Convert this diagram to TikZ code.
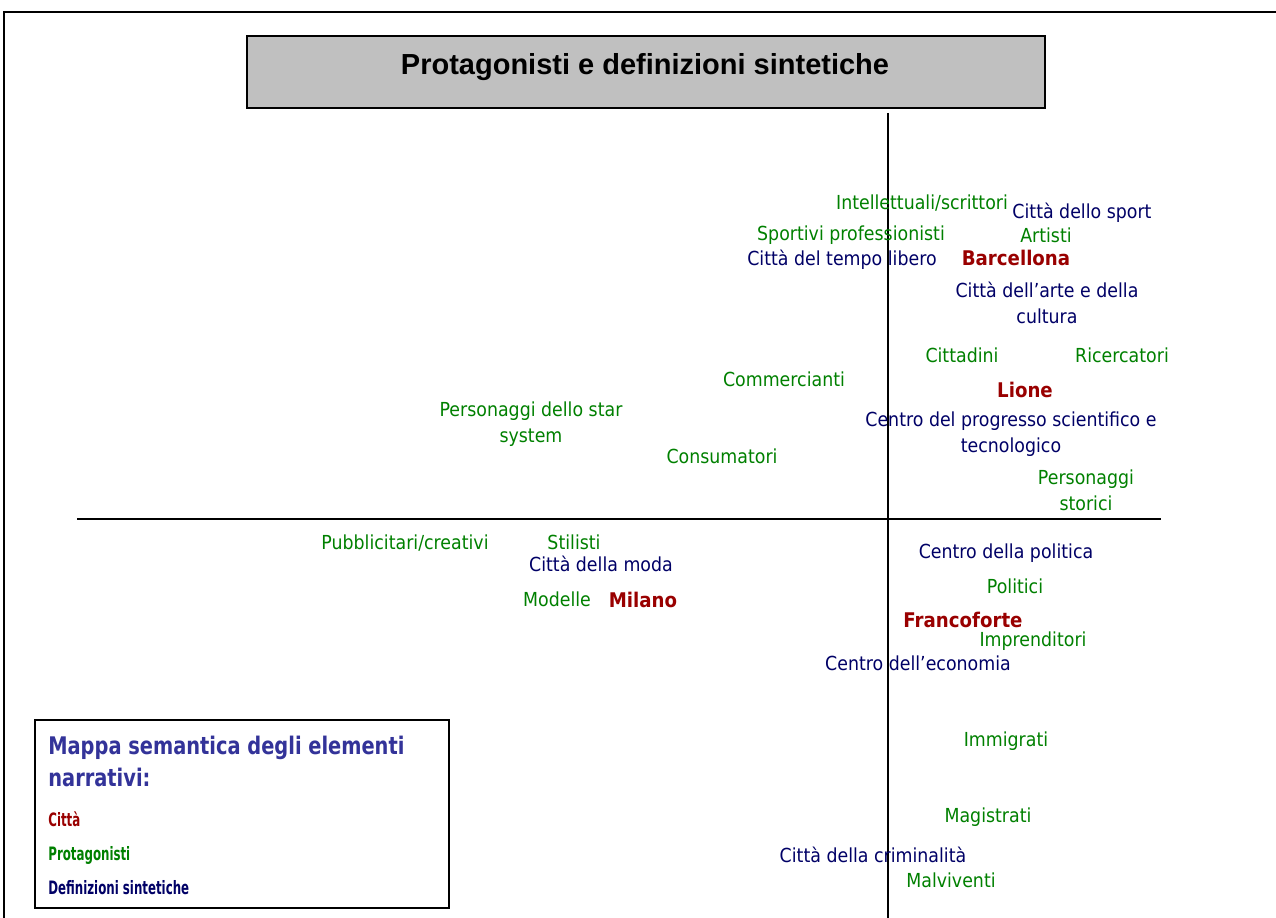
\documentclass[tikz,border=0pt]{standalone}
\usepackage{fontspec}
\setmainfont{DejaVu Sans}[FakeStretch=0.9]
\newfontfamily\titlefont{Liberation Sans}
\newfontfamily\legfont{DejaVu Sans}[FakeStretch=0.8]
\newfontfamily\legitemfont{DejaVu Sans}[FakeStretch=0.64]
\usepackage{tikz}
\usetikzlibrary{positioning}
\definecolor{prot}{RGB}{0,128,0}
\definecolor{defin}{RGB}{0,0,102}
\definecolor{citta}{RGB}{153,0,0}
\definecolor{legblue}{RGB}{51,51,153}
\definecolor{boxgray}{RGB}{192,192,192}

\begin{document}
\begin{tikzpicture}[x=0.02cm,y=-0.02cm,
  prota/.style={text=prot,inner sep=0,align=center,font=\fontsize{11}{14.7}\selectfont},
  defi/.style={text=defin,inner sep=0,align=center,font=\fontsize{11}{14.7}\selectfont},
  city/.style={text=citta,inner sep=0,font=\fontsize{11.5}{14}\selectfont\bfseries},
  legitem/.style={anchor=west,inner sep=0,font=\legitemfont\fontsize{10.5}{12}\selectfont\bfseries},
  axis/.style={line width=1.4pt}]
\useasboundingbox (0,0) rectangle (1276,918);
% frame and title
\draw[line width=1.4pt] (4,918) -- (4,12) -- (1276,12);
\node[draw,line width=1.4pt,fill=boxgray,minimum width=15.96cm,minimum height=1.44cm] (title) at (646,72) {};
\node[font=\titlefont\fontsize{16.5}{18}\selectfont\bfseries,inner sep=0] (titletext) at (645,67) {Protagonisti e definizioni sintetiche};
% axes
\coordinate (vtop) at (888,113);
\coordinate (vbot) at (888,918);
\coordinate (hleft) at (77,519);
\coordinate (hright) at (1161,519);
\draw[axis] (vtop) -- (vbot);
\draw[axis] (hleft) -- (hright);
% Barcellona
\node[prota] (intell) at (922,203) {Intellettuali/scrittori};
\node[defi] (sport) at (1082,213) {Città dello sport};
\node[prota] (sportivi) at (851,235) {Sportivi professionisti};
\node[prota] (artisti) at (1046,235) {Artisti};
\node[defi] (tempo) at (842,260) {Città del tempo libero};
\node[city] (barc) at (1016,258) {Barcellona};
\node[defi] (arte) at (1047,303) {Città dell’arte e della\\cultura};
% Lione
\node[prota] (cittadini) at (962,355) {Cittadini};
\node[prota] (ricerc) at (1122,355) {Ricercatori};
\node[prota] (commerc) at (784,379) {Commercianti};
\node[city] (lione) at (1025,390) {Lione};
\node[prota] (star) at (531,424) {Personaggi dello star\\system};
\node[defi] (progresso) at (1011,434) {Centro del progresso scientifico e\\tecnologico};
\node[prota] (consum) at (722,456) {Consumatori};
\node[prota] (storici) at (1086,490) {Personaggi\\storici};
% Milano
\node[prota] (pubbl) at (405,543) {Pubblicitari/creativi};
\node[prota] (stilisti) at (574,542) {Stilisti};
\node[defi] (moda) at (601,564) {Città della moda};
\node[prota] (modelle) at (557,599) {Modelle};
\node[city] (milano) at (643,600) {Milano};
% Francoforte
\node[defi] (politica) at (1006,553) {Centro della politica};
\node[prota] (politici) at (1015,586) {Politici};
\node[city] (franc) at (963,620) {Francoforte};
\node[prota] (impren) at (1033,641) {Imprenditori};
\node[defi] (economia) at (918,663) {Centro dell’economia};
% criminalita
\node[prota] (immigr) at (1006,741) {Immigrati};
\node[prota] (magistr) at (988,817) {Magistrati};
\node[defi] (crimin) at (873,855) {Città della criminalità};
\node[prota] (malv) at (951,880) {Malviventi};
% legend
\node[draw,line width=1.4pt,minimum width=8.28cm,minimum height=3.76cm] (legbox) at (242,814) {};
\node[anchor=north west,inner sep=0,align=left,text=legblue,
  font=\legfont\fontsize{13.8}{18}\selectfont\bfseries] (legtitle) at (48,736) {Mappa semantica degli elementi\\narrativi:};
\node[legitem,text=citta] (legcitta) at (48,819) {Città};
\node[legitem,text=prot] (legprot) at (48,855) {Protagonisti};
\node[legitem,text=defin] (legdef) at (48,888) {Definizioni sintetiche};
\end{tikzpicture}
\end{document}
